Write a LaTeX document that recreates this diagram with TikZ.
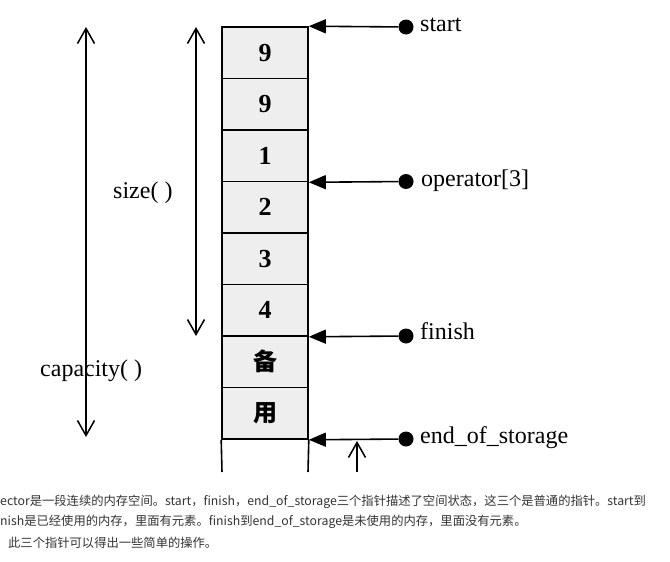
\documentclass[tikz,border=0pt]{standalone}
\usepackage{fontspec}
\setmainfont{Liberation Serif}
\newfontfamily\cjk{Noto Sans CJK SC}
\usetikzlibrary{arrows.meta}
\begin{document}
\begin{tikzpicture}[x=1pt,y=-1pt,
  cellbox/.style={draw, line width=1.6pt, fill=gray!13, minimum width=86pt, minimum height=51.5pt, inner sep=0pt, font=\fontsize{26}{26}\selectfont\bfseries},
  cjkcell/.style={cellbox, font=\cjk\fontsize{24}{24}\selectfont\bfseries},
  ptr/.style={draw, line width=1.6pt, -{Triangle[length=17pt,width=14pt]}},
  ptrdot/.style={circle, fill=black, minimum size=15pt, inner sep=0pt},
  lbl/.style={anchor=base west, font=\fontsize{24}{24}\selectfont, inner sep=0pt},
  dimline/.style={line width=1.5pt, {Straight Barb[length=15pt,width=17pt]}-{Straight Barb[length=15pt,width=17pt]}},
  uparrow/.style={line width=1.5pt, -{Straight Barb[length=15pt,width=17pt]}},
  note/.style={anchor=base west, inner sep=0pt, text=black!80, font=\cjk\fontsize{12.3}{12.3}\selectfont}]
\useasboundingbox (0,0) rectangle (670,562);

% cells
\node[cellbox] (c1) at (265,52.75) {9};
\node[cellbox] (c2) at (265,104.25) {9};
\node[cellbox] (c3) at (265,155.75) {1};
\node[cellbox] (c4) at (265,207.25) {2};
\node[cellbox] (c5) at (265,258.75) {3};
\node[cellbox] (c6) at (265,310.25) {4};
\node[cjkcell] (c7) at (265,361.75) {备};
\node[cjkcell] (c8) at (265,413.25) {用};
\coordinate (bl) at (222,472);
\coordinate (br) at (308,472);
\draw[line width=1.6pt] (c8.south west) -- (bl);
\draw[line width=1.6pt] (c8.south east) -- (br);

% pointers
\node[ptrdot] (dS) at (406,27) {};
\node[ptrdot] (dO) at (406,181.5) {};
\node[ptrdot] (dF) at (406,336) {};
\node[ptrdot] (dE) at (406,439) {};
\draw[ptr] (dS) -- (c1.north east);
\draw[ptr] (dO) -- (c3.south east);
\draw[ptr] (dF) -- (c6.south east);
\draw[ptr] (dE) -- (c8.south east);
\node[lbl] (tS) at (420,31) {start};
\node[lbl] (tO) at (421,186) {operator[3]};
\node[lbl] (tF) at (420,339) {finish};
\node[lbl] (tE) at (420,443) {end\_of\_storage};

% small upward arrow
\coordinate (u0) at (357,472);
\coordinate (u1) at (357,441);
\draw[uparrow] (u0) -- (u1);

% dimension arrows
\coordinate (capT) at (86,27);
\coordinate (capB) at (86,437);
\coordinate (sizT) at (196,27);
\coordinate (sizB) at (196,336);
\draw[dimline] (capT) -- (capB);
\draw[dimline] (sizT) -- (sizB);
\node[lbl] (tSize) at (113,198) {size( )};
\node[lbl] (tCap) at (40,376) {capacity( )};

% caption text
\node[note] (n1) at (0,505) {ector是一段连续的内存空间。start，finish，end\_of\_storage三个指针描述了空间状态，这三个是普通的指针。start到};
\node[note] (n2) at (0,525) {nish是已经使用的内存，里面有元素。finish到end\_of\_storage是未使用的内存，里面没有元素。};
\node[note] (n3) at (8,547) {此三个指针可以得出一些简单的操作。};
\end{tikzpicture}
\end{document}
